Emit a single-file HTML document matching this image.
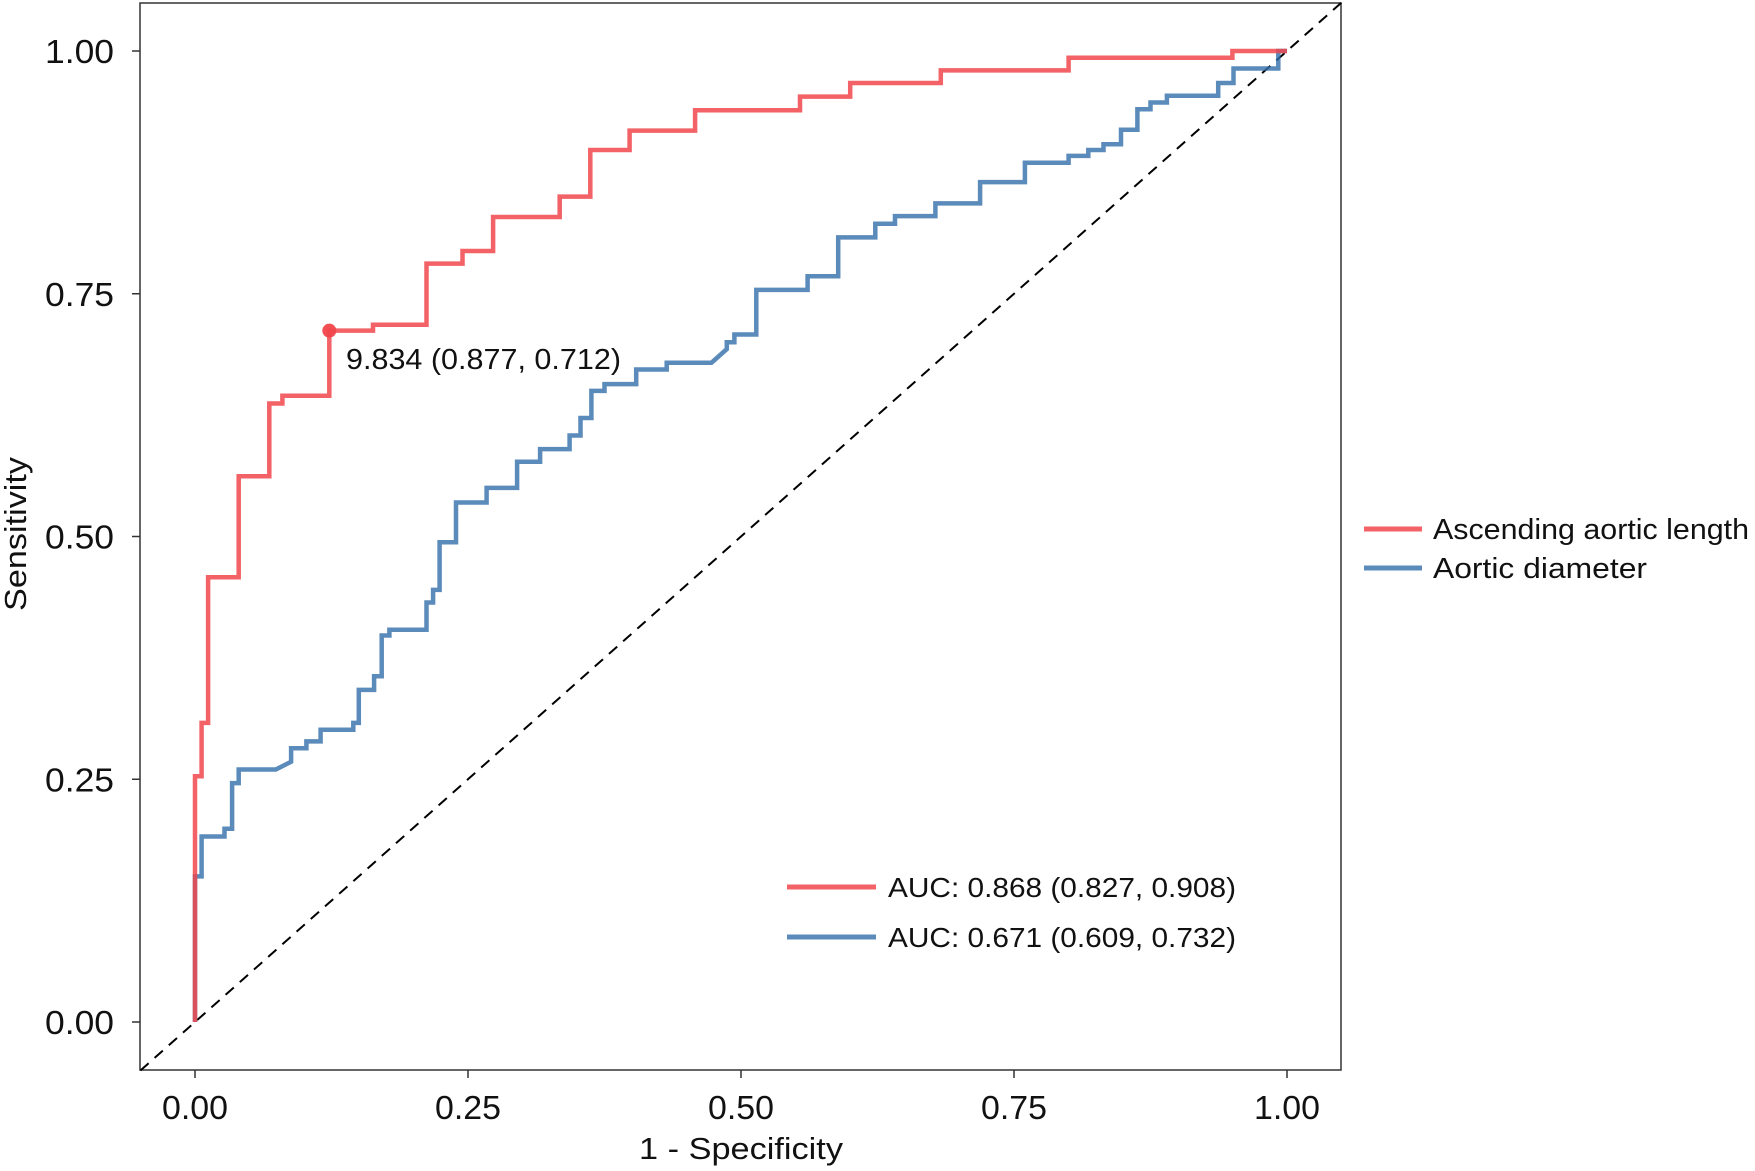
<!DOCTYPE html>
<html><head><meta charset="utf-8"><style>
html,body{margin:0;padding:0;background:#fff;}
svg{display:block;font-family:"Liberation Sans",sans-serif;}
</style></head><body>
<svg id="chart" width="1755" height="1171" viewBox="0 0 1755 1171">
<rect x="140" y="3" width="1201" height="1067" fill="#fff" stroke="#333" stroke-width="1.5"/>
<g id="axes"></g>
<g id="curves"></g>
<text x="346" y="369" font-size="29" fill="#111" textLength="275" lengthAdjust="spacingAndGlyphs">9.834 (0.877, 0.712)</text>
<text x="741" y="1159" font-size="31" text-anchor="middle" fill="#111" textLength="204" lengthAdjust="spacingAndGlyphs">1 - Specificity</text>
<text transform="translate(26,534) rotate(-90)" font-size="31" text-anchor="middle" fill="#111" textLength="154" lengthAdjust="spacingAndGlyphs">Sensitivity</text>
<g>
<g>
<line x1="1364" y1="529" x2="1422" y2="529" stroke="rgba(240,70,75,0.85)" stroke-width="5"/>
<text x="1433" y="539" font-size="29" fill="#111" textLength="316" lengthAdjust="spacingAndGlyphs">Ascending aortic length</text></g>
<g>
<line x1="1364" y1="568" x2="1422" y2="568" stroke="rgba(50,110,170,0.8)" stroke-width="5"/>
<text x="1433" y="578" font-size="29" fill="#111" textLength="214" lengthAdjust="spacingAndGlyphs">Aortic diameter</text></g>
</g>
<g>
<g>
<line x1="787" y1="887" x2="876" y2="887" stroke="rgba(240,70,75,0.85)" stroke-width="5"/>
<text x="888" y="897" font-size="28" fill="#111" textLength="348" lengthAdjust="spacingAndGlyphs">AUC: 0.868 (0.827, 0.908)</text></g>
<g>
<line x1="787" y1="937" x2="876" y2="937" stroke="rgba(50,110,170,0.8)" stroke-width="5"/>
<text x="888" y="947" font-size="28" fill="#111" textLength="348" lengthAdjust="spacingAndGlyphs">AUC: 0.671 (0.609, 0.732)</text></g>
</g>
</svg>
<script>
const ticks = [0, 0.25, 0.5, 0.75, 1];
const tickLabels = ["0.00", "0.25", "0.50", "0.75", "1.00"];
const redFpr = [0,0,0.006,0.006,0.012,0.012,0.04,0.04,0.068,0.068,0.08,0.08,0.123,0.123,0.163,0.163,0.212,0.212,0.245,0.245,0.273,0.273,0.334,0.334,0.362,0.362,0.398,0.398,0.458,0.458,0.554,0.554,0.6,0.6,0.683,0.683,0.8,0.8,0.95,0.95,1];
const redTpr = [0,0.253,0.253,0.308,0.308,0.458,0.458,0.562,0.562,0.637,0.637,0.645,0.645,0.712,0.712,0.718,0.718,0.781,0.781,0.794,0.794,0.829,0.829,0.85,0.85,0.898,0.898,0.918,0.918,0.939,0.939,0.953,0.953,0.967,0.967,0.98,0.98,0.993,0.993,1,1];
const blueFpr = [0,0,0.006,0.006,0.027,0.027,0.034,0.034,0.04,0.04,0.074,0.088,0.088,0.102,0.102,0.115,0.115,0.145,0.145,0.15,0.15,0.164,0.164,0.171,0.171,0.178,0.178,0.212,0.212,0.218,0.218,0.224,0.224,0.239,0.239,0.267,0.267,0.295,0.295,0.316,0.316,0.343,0.343,0.353,0.353,0.363,0.363,0.375,0.375,0.404,0.404,0.432,0.432,0.473,0.487,0.487,0.494,0.494,0.514,0.514,0.561,0.561,0.589,0.589,0.623,0.623,0.641,0.641,0.678,0.678,0.719,0.719,0.76,0.76,0.8,0.8,0.818,0.818,0.832,0.832,0.848,0.848,0.863,0.863,0.875,0.875,0.89,0.89,0.937,0.937,0.951,0.951,0.992,0.992,1];
const blueTpr = [0,0.15,0.15,0.191,0.191,0.199,0.199,0.246,0.246,0.26,0.26,0.268,0.282,0.282,0.289,0.289,0.301,0.301,0.308,0.308,0.342,0.342,0.356,0.356,0.398,0.398,0.404,0.404,0.432,0.432,0.445,0.445,0.494,0.494,0.535,0.535,0.55,0.55,0.577,0.577,0.59,0.59,0.604,0.604,0.622,0.622,0.65,0.65,0.657,0.657,0.672,0.672,0.679,0.679,0.693,0.7,0.7,0.708,0.708,0.754,0.754,0.768,0.768,0.808,0.808,0.822,0.822,0.83,0.83,0.843,0.843,0.865,0.865,0.885,0.885,0.892,0.892,0.898,0.898,0.904,0.904,0.919,0.919,0.94,0.94,0.947,0.947,0.954,0.954,0.967,0.967,0.982,0.982,1,1];
const cutoff = [0.123, 0.712];

const NS = "http://www.w3.org/2000/svg";
const xs = v => 195 + v * 1092;
const ys = v => 1022 - v * 971;
function mk(tag, attrs, parent) {
  const e = document.createElementNS(NS, tag);
  for (const k in attrs) e.setAttribute(k, attrs[k]);
  parent.appendChild(e);
  return e;
}
const axes = document.getElementById('axes');
ticks.forEach((t, i) => {
  const yl = mk('line', {x1: 132, x2: 140, y1: ys(t), y2: ys(t), stroke: '#333', 'stroke-width': 1.5}, axes);
  
  
  const yt = mk('text', {x: 114, y: ys(t) + 12, 'font-size': 33, 'text-anchor': 'end', fill: '#111', textLength: 69, lengthAdjust: 'spacingAndGlyphs'}, axes);
  yt.textContent = tickLabels[i];
  
  
  const xl = mk('line', {x1: xs(t), x2: xs(t), y1: 1070, y2: 1078, stroke: '#333', 'stroke-width': 1.5}, axes);
  
  
  const xt = mk('text', {x: xs(t), y: 1119, 'font-size': 33, 'text-anchor': 'middle', fill: '#111', textLength: 66, lengthAdjust: 'spacingAndGlyphs'}, axes);
  xt.textContent = tickLabels[i];
  
  
});
const curves = document.getElementById('curves');
const diag = mk('line', {x1: xs(-0.05), y1: ys(-0.05), x2: xs(1.05), y2: ys(1.05), stroke: '#000', 'stroke-width': 2, 'stroke-dasharray': '11,8'}, curves);


function path(fx, ty, color, name) {
  const d = fx.map((v, i) => (i ? 'L' : 'M') + xs(v).toFixed(1) + ',' + ys(ty[i]).toFixed(1)).join(' ');
  const p = mk('path', {d: d, fill: 'none', stroke: color, 'stroke-width': 4.5, 'stroke-linejoin': 'miter'}, curves);
  
  
}
path(blueFpr, blueTpr, 'rgba(50,110,170,0.8)', 'aortic-diameter-curve');
path(redFpr, redTpr, 'rgba(240,70,75,0.85)', 'ascending-aortic-length-curve');
const pt = mk('circle', {cx: xs(cutoff[0]), cy: ys(cutoff[1]), r: 7, fill: 'rgba(240,70,75,0.95)'}, curves);


</script>
</body></html>
